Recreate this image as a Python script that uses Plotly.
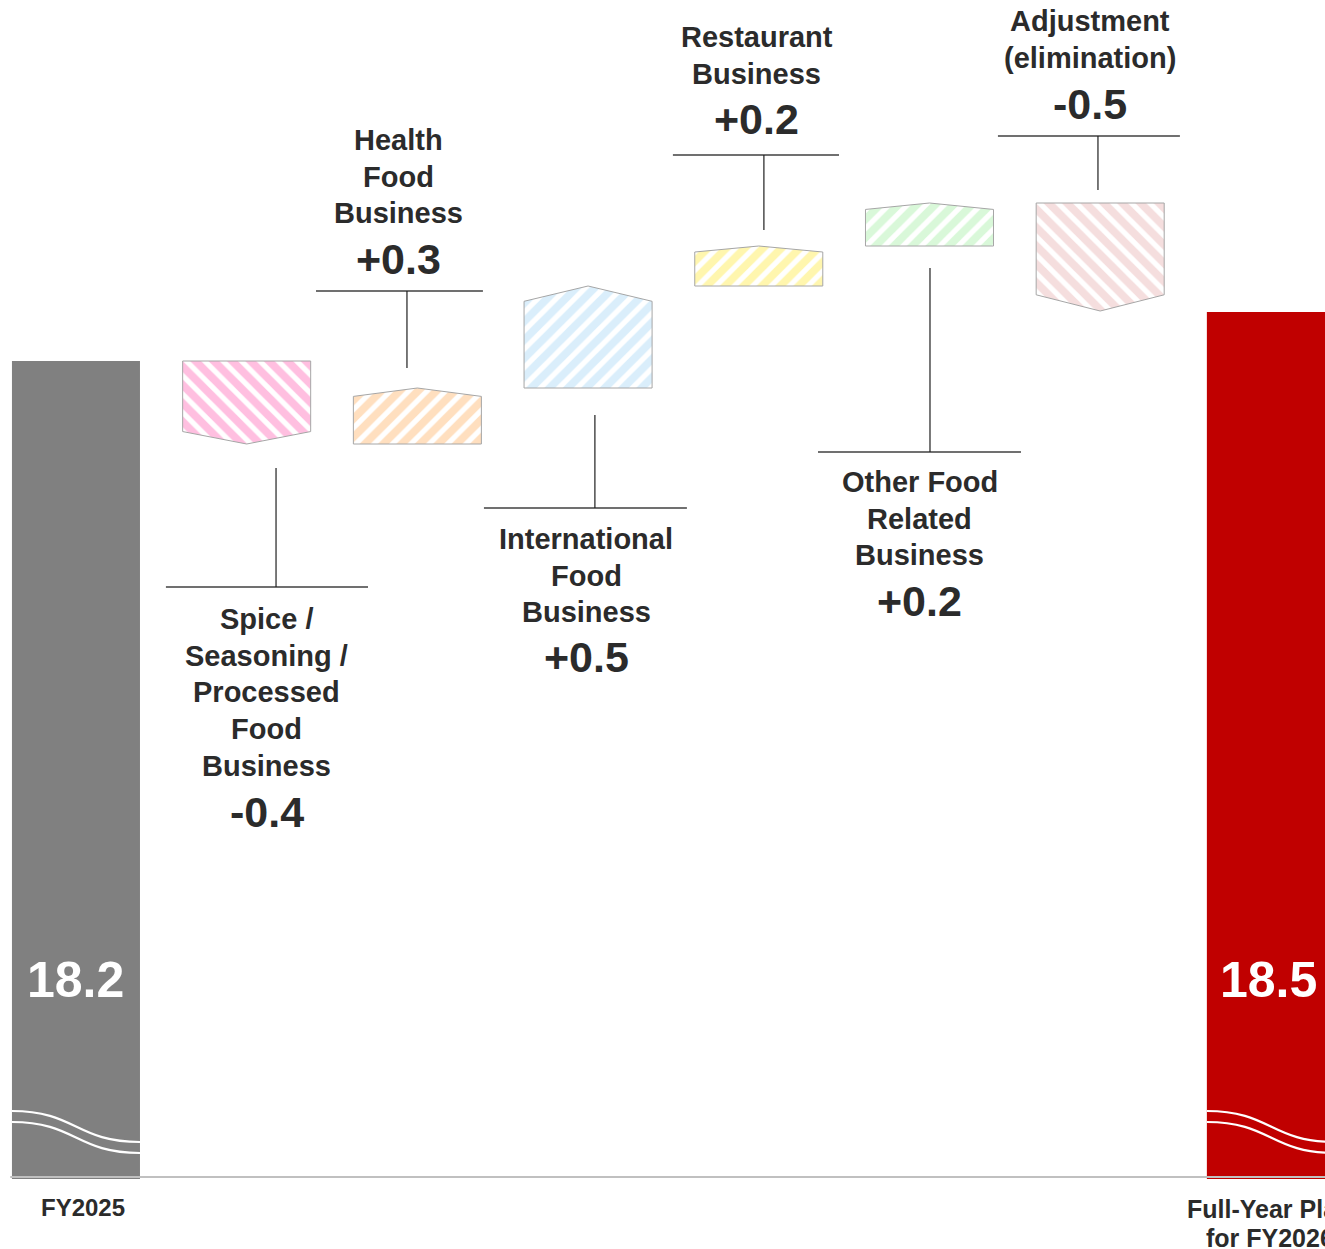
import plotly.graph_objects as go

# ---------------- data ----------------
start_name = "FY2025"
start_value = 18.2
start_label = "18.2"

end_name_lines = ["Full-Year Plan", "for FY2026"]
end_value = 18.445
end_label = "18.5"

delta_names = [
    "Spice /<br>Seasoning /<br>Processed<br>Food<br>Business",
    "Health<br>Food<br>Business",
    "International<br>Food<br>Business",
    "Restaurant<br>Business",
    "Other Food<br>Related<br>Business",
    "Adjustment<br>(elimination)",
]
delta_values = [-0.415, 0.28, 0.51, 0.20, 0.215, -0.54]
delta_labels = ["-0.4", "+0.3", "+0.5", "+0.2", "+0.2", "-0.5"]
delta_colors = ["#FF80C2", "#FFBF80", "#B5DEF8", "#FFEE5E", "#B3F2B3", "#ECBDBD"]

# ---------------- layout constants ----------------
FONT = "Liberation Sans, Arial, sans-serif"
TEXT_COLOR = "#2b2b2b"
BAR_W = 0.75
Y_MIN, Y_MAX = 14.11, 20.005
X_MIN, X_MAX = -0.445, 7.317
BASELINE = 14.12
LINE_PITCH = 0.1835   # label line spacing in data units
PLOT_H_PX = 1179

# callout placement per delta item (data units)
callouts = [
    dict(hx=(0.527, 1.711), hy=17.07, vx=1.172, vy=(17.665, 17.07), lx=1.119, ly=16.91, ny=15.945),
    dict(hx=(1.406, 2.384), hy=18.55, vx=1.939, vy=(18.55, 18.165), lx=1.892, ly=19.305, ny=18.71),
    dict(hx=(2.390, 3.579), hy=17.465, vx=3.040, vy=(17.93, 17.465), lx=2.988, ly=17.31, ny=16.72),
    dict(hx=(3.497, 4.470), hy=19.23, vx=4.030, vy=(19.23, 18.855), lx=3.989, ly=19.82, ny=19.41),
    dict(hx=(4.347, 5.536), hy=17.745, vx=5.003, vy=(18.665, 17.745), lx=4.944, ly=17.595, ny=17.0),
    dict(hx=(5.401, 6.467), hy=19.325, vx=5.987, vy=(19.325, 19.055), lx=5.940, ly=19.9, ny=19.485),
]

fig = go.Figure()

n = len(delta_values)
end_x = n + 1

# start and end totals
fig.add_trace(go.Bar(x=[0], y=[start_value], width=BAR_W, marker=dict(color="#808080", line=dict(width=0)),
                     showlegend=False, hoverinfo="skip"))
fig.add_trace(go.Bar(x=[end_x], y=[end_value], width=BAR_W, marker=dict(color="#C00000", line=dict(width=0)),
                     showlegend=False, hoverinfo="skip"))

# delta boxes (pentagons pointing in direction of change)
level = start_value
h = BAR_W / 2
for i, d in enumerate(delta_values):
    xc = i + 1
    s = level
    e = level + d
    t = 0.15 * d
    xs = [xc - h, xc + h, xc + h, xc, xc - h, xc - h]
    ys = [s, s, e - t, e, e - t, s]
    fig.add_trace(go.Scatter(
        x=xs, y=ys, mode="lines", fill="toself", fillcolor="white",
        fillpattern=dict(shape="/" if d > 0 else "\\", fgcolor=delta_colors[i], bgcolor="white",
                         size=13, solidity=0.6),
        line=dict(color="#A6A6A6", width=1), showlegend=False, hoverinfo="skip"))
    level = e

shapes = []
annotations = []

# callout lines and labels
for i, c in enumerate(callouts):
    shapes.append(dict(type="line", xref="x", yref="y", x0=c["hx"][0], x1=c["hx"][1], y0=c["hy"], y1=c["hy"],
                       line=dict(color="#404040", width=1.3)))
    shapes.append(dict(type="line", xref="x", yref="y", x0=c["vx"], x1=c["vx"], y0=c["vy"][0], y1=c["vy"][1],
                       line=dict(color="#202020", width=1.2)))
    for k, line_text in enumerate(delta_names[i].split("<br>")):
        annotations.append(dict(x=c["lx"], y=c["ly"] - k * LINE_PITCH, xref="x", yref="y", text=line_text,
                                showarrow=False, xanchor="center", yanchor="middle",
                                font=dict(family=FONT, size=29, color=TEXT_COLOR, weight="bold")))
    annotations.append(dict(x=c["lx"], y=c["ny"], xref="x", yref="y", text=delta_labels[i], showarrow=False,
                            xanchor="center", yanchor="middle",
                            font=dict(family=FONT, size=43, color=TEXT_COLOR, weight="bold")))

# baseline
shapes.append(dict(type="line", xref="x", yref="y", x0=-0.385, x1=X_MAX, y0=BASELINE, y1=BASELINE,
                   line=dict(color="#C0C0C0", width=2)))

# axis-break waves on the total bars
for xc in (0, end_x):
    x0, x1 = xc - h, xc + h
    xm = xc
    for (ya, yb) in ((14.45, 14.295), (14.395, 14.24)):
        shapes.append(dict(type="path", xref="x", yref="y",
                           path=f"M {x0},{ya} C {xm},{ya} {xm},{yb} {x1},{yb}",
                           line=dict(color="white", width=2.2)))

# values inside totals
annotations.append(dict(x=0, y=15.105, xref="x", yref="y", text=start_label, showarrow=False,
                        font=dict(family=FONT, size=50, color="white", weight="bold")))
annotations.append(dict(x=end_x, y=15.105, xref="x", yref="y", text=end_label, showarrow=False, xshift=-2,
                        font=dict(family=FONT, size=50, color="white", weight="bold")))

# category labels for totals (below the plot area -> paper coordinates)
annotations.append(dict(x=0, y=1 - 1207 / PLOT_H_PX, xref="x", yref="paper", text=start_name,
                        showarrow=False, xshift=7, yanchor="middle",
                        font=dict(family=FONT, size=24, color=TEXT_COLOR, weight="bold")))
for k, (line_text, py) in enumerate(zip(end_name_lines, (1209, 1238))):
    annotations.append(dict(x=end_x, y=1 - py / PLOT_H_PX, xref="x", yref="paper", text=line_text,
                            showarrow=False, xshift=-1, yanchor="middle",
                            font=dict(family=FONT, size=25, color=TEXT_COLOR, weight="bold")))

fig.update_layout(
    width=1325, height=1249,
    margin=dict(l=0, r=0, t=0, b=70),
    paper_bgcolor="white", plot_bgcolor="white",
    xaxis=dict(range=[X_MIN, X_MAX], visible=False, showgrid=False, zeroline=False),
    yaxis=dict(range=[Y_MIN, Y_MAX], visible=False, showgrid=False, zeroline=False),
    shapes=shapes, annotations=annotations,
    barmode="overlay", showlegend=False,
)

fig.write_html("out.html")
